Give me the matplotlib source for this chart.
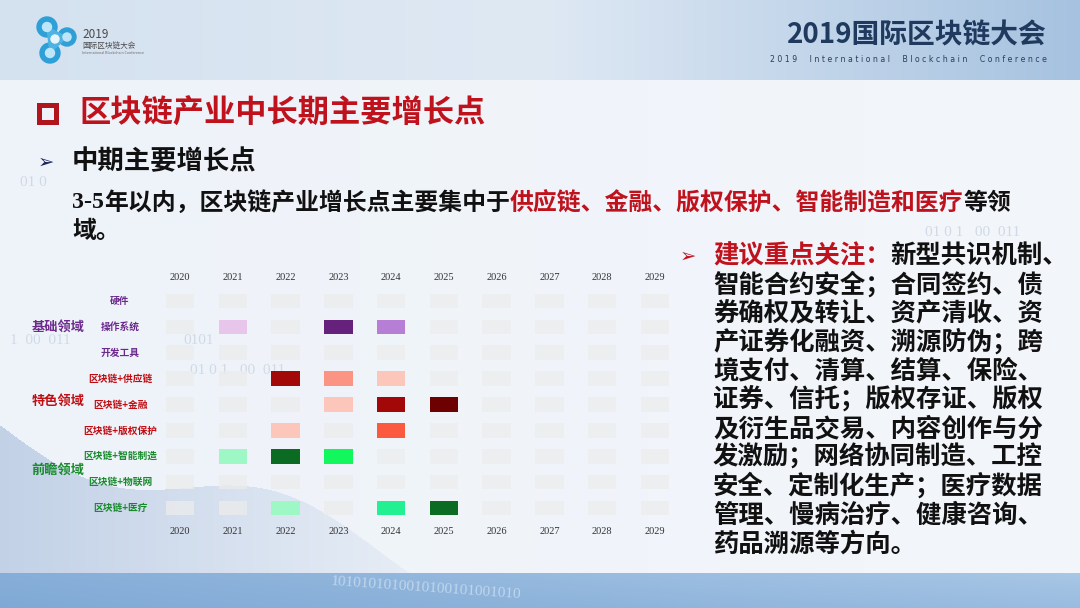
import numpy as np
import matplotlib
matplotlib.use("Agg")
import matplotlib.pyplot as plt
from matplotlib.patches import Rectangle, Circle, Polygon
from matplotlib.transforms import blended_transform_factory

# ------------------------------
# Data
# ------------------------------
years = [2020, 2021, 2022, 2023, 2024, 2025, 2026, 2027, 2028, 2029]
rows = ['硬件', '操作系统', '开发工具',
        '区块链+供应链', '区块链+金融', '区块链+版权保护',
        '区块链+智能制造', '区块链+物联网', '区块链+医疗']
row_group = [0, 0, 0, 1, 1, 1, 2, 2, 2]
groups = ['基础领域', '特色领域', '前瞻领域']

# intensity level per cell (0 = nothing)
levels = [
    [0, 0, 0, 0, 0, 0, 0, 0, 0, 0],
    [0, 1, 0, 3, 2, 0, 0, 0, 0, 0],
    [0, 0, 0, 0, 0, 0, 0, 0, 0, 0],
    [0, 0, 4, 2, 1, 0, 0, 0, 0, 0],
    [0, 0, 0, 1, 4, 5, 0, 0, 0, 0],
    [0, 0, 1, 0, 3, 0, 0, 0, 0, 0],
    [0, 1, 4, 3, 0, 0, 0, 0, 0, 0],
    [0, 0, 0, 0, 0, 0, 0, 0, 0, 0],
    [0, 0, 1, 0, 2, 4, 0, 0, 0, 0],
]

# colour for each level, per group
level_colors = [
    ['#ececec', '#e8c6ec', '#b67ed4', '#66217c', '#66217c', '#66217c'],
    ['#ececec', '#fdc6bb', '#fc9483', '#fb5a40', '#a30808', '#6d0000'],
    ['#ececec', '#9ef8c6', '#22f091', '#12f85c', '#0b6b22', '#0b6b22'],
]
label_colors = ['#6b2a8c', '#c00d12', '#178a2c']

advice_head = '建议重点关注：'
advice_lines = [
    '新型共识机制、',
    '智能合约安全；合同签约、债',
    '券确权及转让、资产清收、资',
    '产证券化融资、溯源防伪；跨',
    '境支付、清算、结算、保险、',
    '证券、信托；版权存证、版权',
    '及衍生品交易、内容创作与分',
    '发激励；网络协同制造、工控',
    '安全、定制化生产；医疗数据',
    '管理、慢病治疗、健康咨询、',
    '药品溯源等方向。',
]

plt.rcParams['font.family'] = ['Noto Sans CJK SC', 'DejaVu Sans']

W, H = 1080, 608
fig = plt.figure(figsize=(10.8, 6.08), dpi=100)

# ------------------------------
# Slide background
# ------------------------------
bg = fig.add_axes([0, 0, 1, 1])
bg.set_xlim(0, W)
bg.set_ylim(H, 0)
bg.axis('off')


def hex_rgb(h):
    h = h.lstrip('#')
    return np.array([int(h[i:i + 2], 16) / 255 for i in (0, 2, 4)])


xx, yy = np.meshgrid(np.arange(W), np.arange(H))
img = np.ones((H, W, 3))
# body
t = np.clip(xx / W, 0, 1)[..., None]
body = hex_rgb('#eef3f9') * (1 - t) + hex_rgb('#f3f6fb') * t
img[:] = body
# mountain bottom-left
ridge = 425 + 0.33 * xx + 25 * np.sin(xx / 60.0)
m = (yy > ridge).astype(float) * np.clip(1 - xx / 520, 0, 1)
m = m[..., None] * 0.55
img = img * (1 - m) + hex_rgb('#9fb6d8') * m
# header
hx = xx / W
head = np.where(hx[..., None] < 0.5,
                hex_rgb('#d4e1ef') * (1 - hx[..., None] * 2) + hex_rgb('#dfe9f4') * hx[..., None] * 2,
                hex_rgb('#dfe9f4') * (2 - hx[..., None] * 2) + hex_rgb('#a6c2e0') * (hx[..., None] * 2 - 1))
img = np.where((yy < 80)[..., None], head, img)
# bottom band
bt = np.clip((yy - 572) / 36, 0, 1)[..., None]
band = hex_rgb('#86aed8') * (1 - t) + hex_rgb('#a9c7e6') * t
band = band * (1 - 0.25 * bt) + hex_rgb('#6b9acd') * 0.25 * bt
img = np.where((yy > 572)[..., None], band, img)
bg.imshow(img, extent=(0, W, H, 0), aspect='auto', zorder=0)

# faint binary decorations
for x, y, s in [(20, 183, '01 0'), (10, 341, '1  00  011'), (183, 341, '0101'),
                (190, 371, '01 0 1   00  011'), (925, 232, '01 0 1   00  011')]:
    bg.text(x, y, s, fontsize=11, color='#d0dae6', family='Liberation Serif', va='center', zorder=1)
bg.text(330, 588, '1010101010010100101001010', fontsize=11, color='white', alpha=0.45,
        family='Liberation Serif', va='center', rotation=-4, zorder=1)

# ------------------------------
# Header: logo and conference title
# ------------------------------
for (cx, cy, r) in [(47, 27, 10), (67, 37, 9), (50, 53, 10)]:
    bg.add_patch(Circle((cx, cy), r, color='#2f9fd8', zorder=2))
    bg.add_patch(Circle((cx, cy), r * 0.45, color='#bfe6f7', zorder=3))
bg.add_patch(Polygon([(47, 27), (67, 37), (50, 53)], closed=True, color='#4db3e3', zorder=2))
bg.add_patch(Circle((55, 39), 4, color='#e8f4fb', zorder=3))
bg.text(82, 35, '2019', fontsize=8.5, color='#4a4a4a', va='center', zorder=3)
bg.text(82, 46, '国际区块链大会', fontsize=5.5, color='#4a4a4a', va='center', zorder=3)
bg.text(82, 53, 'International Blockchain Conference', fontsize=2.6, color='#666666',
        va='center', zorder=3)

bg.text(1047, 35, '2019国际区块链大会', fontsize=20, fontweight='bold', color='#1f3a5e',
        ha='right', va='center', zorder=3)
bg.text(1047, 59, '  '.join('2019 International Blockchain Conference'.split(' ')).replace('', ' ').strip(),
        fontsize=5.6, color='#2b3e57', ha='right', va='center', family='DejaVu Sans', zorder=3)

# ------------------------------
# Slide titles and text
# ------------------------------
bg.add_patch(Rectangle((39, 105), 17, 17, fill=False, edgecolor='#b0141c', linewidth=3.6, zorder=3))
bg.text(79, 114, '区块链产业中长期主要增长点', fontsize=22.5, fontweight='bold', color='#c0121c',
        va='center', zorder=3)
bg.text(38, 162, '➢', fontsize=14, color='#1a2560', va='center', family='DejaVu Sans', zorder=3)
bg.text(72, 162, '中期主要增长点', fontsize=19, fontweight='bold', color='#111111',
        va='center', zorder=3)

renderer = fig.canvas.get_renderer()


def draw_pieces(x, y, pieces, size):
    for s, c, fam in pieces:
        txt = bg.text(x, y, s, fontsize=size, fontweight='bold', color=c, va='center',
                      family=fam, zorder=3)
        x += txt.get_window_extent(renderer).width
    return x


cjk = ['Noto Sans CJK SC', 'DejaVu Sans']
draw_pieces(72, 203, [('3-5', '#111111', 'Liberation Serif'),
                      ('年以内，区块链产业增长点主要集中于', '#111111', cjk),
                      ('供应链、金融、版权保护、智能制造和医疗', '#c0121c', cjk),
                      ('等领', '#111111', cjk)], 17.2)
bg.text(72, 231, '域。', fontsize=17.2, fontweight='bold', color='#111111', va='center', zorder=3)

# right-hand advice paragraph
bg.text(680, 256, '➢', fontsize=14, color='#c0121c', va='center', family='DejaVu Sans', zorder=3)
y0, pitch = 256, 28.8
for i, line in enumerate(advice_lines):
    y = y0 + i * pitch
    if i == 0:
        draw_pieces(713, y, [(advice_head, '#c0121c', cjk), (line, '#111111', cjk)], 18.3)
    else:
        draw_pieces(713, y, [(line, '#111111', cjk)], 18.3)

# ------------------------------
# Heatmap of growth points
# ------------------------------
left, right = 153.6, 681.4
top, bottom = 288, 521
ax = fig.add_axes([left / W, 1 - bottom / H, (right - left) / W, (bottom - top) / H])
ax.patch.set_alpha(0)
ax.set_xlim(years[0] - 0.5, years[-1] + 0.5)
ax.set_ylim(len(rows) - 0.5, -0.5)
for s in ax.spines.values():
    s.set_visible(False)

for r, name in enumerate(rows):
    g = row_group[r]
    cols = [level_colors[g][v] for v in levels[r]]
    alphas = [0.75 if v == 0 else 1.0 for v in levels[r]]
    for yr, c, a in zip(years, cols, alphas):
        ax.bar(yr, 0.56, bottom=r - 0.28, width=0.54, color=c, alpha=a, linewidth=0)

ax.set_xticks(years)
ax.set_xticklabels([str(y) for y in years], family='Liberation Serif', fontsize=7.5, color='#333333')
ax.tick_params(axis='x', length=0, pad=4, labeltop=True, labelbottom=True)
ax.set_yticks([])

trans = blended_transform_factory(bg.transData, ax.transData)
for r, name in enumerate(rows):
    ax.text(120, r, name, transform=trans, ha='center', va='center', fontsize=7,
            fontweight='bold', color=label_colors[row_group[r]])
for g, (name, pos) in enumerate(zip(groups, [1, 3.85, 6.5])):
    ax.text(58, pos, name, transform=trans, ha='center', va='center', fontsize=9.5,
            fontweight='bold', color=label_colors[g])

fig.savefig('out.png', dpi=100)
